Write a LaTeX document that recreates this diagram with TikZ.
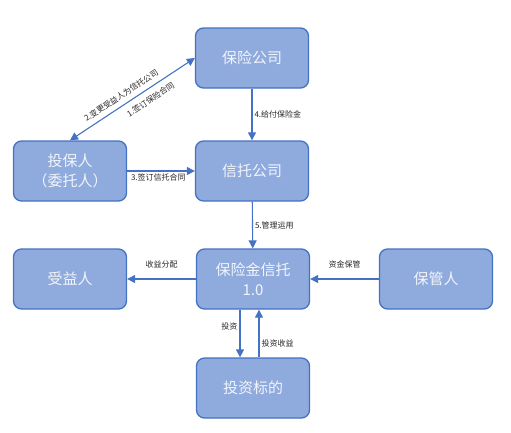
\documentclass[tikz,border=0pt]{standalone}
\usepackage{fontspec}
\setmainfont{Noto Sans CJK SC}
\usetikzlibrary{arrows.meta,positioning}
\definecolor{boxFill}{HTML}{8FAADC}
\definecolor{boxEdge}{HTML}{4472C4}
\definecolor{boxText}{HTML}{F2F5FB}
\tikzset{
  party/.style={draw=boxEdge, fill=boxFill, rounded corners=8pt, line width=1.3pt,
                minimum width=113pt, minimum height=60pt, font=\fontsize{15}{20}\selectfont,
                text=boxText, align=center},
  flow/.style={-{Triangle[length=8pt,width=8pt]}, draw=boxEdge, line width=1.1pt},
  lbl/.style={font=\fontsize{8}{10}\selectfont, text=black!85, inner sep=2pt},
}
\begin{document}
\begin{tikzpicture}[x=1pt,y=-1pt]
  \useasboundingbox (0,0) rectangle (511,432);
  \node[party] (ins)    at (252,58)  {保险公司};
  \node[party] (trust)  at (252,171) {信托公司};
  \node[party] (holder) at (70,171)  {投保人\\（委托人）};
  \node[party] (fund)   at (253,279) {保险金信托\\1.0};
  \node[party] (keeper) at (436,279) {保管人};
  \node[party] (benef)  at (70,279)  {受益人};
  \node[party] (target) at (253,388) {投资标的};

  % contracts
  \draw[flow,{Triangle[length=8pt,width=8pt]}-{Triangle[length=8pt,width=8pt]}] (holder.north) -- (ins.west)
    node[lbl,pos=0.45,sloped,above,yshift=3pt]{2.变更受益人为信托公司}
    node[lbl,pos=0.6,sloped,below,yshift=-4pt]{1.签订保险合同};
  \draw[flow] (ins) -- (trust) node[lbl,midway,right]{4.给付保险金};
  \draw[flow] (holder) -- (trust) node[lbl,pos=0.02,below right]{3.签订信托合同};
  \draw[flow] (trust) -- (fund) node[lbl,midway,right]{5.管理运用};
  % fund flows
  \draw[flow] (fund) -- (benef) node[lbl,midway,above,yshift=8pt]{收益分配};
  \draw[flow] (keeper) -- (fund) node[lbl,midway,above,yshift=8pt]{资金保管};
  \coordinate (f1) at ([xshift=-13pt]fund.south);
  \coordinate (t1) at ([xshift=-13pt]target.north);
  \coordinate (f2) at ([xshift=6pt]fund.south);
  \coordinate (t2) at ([xshift=6pt]target.north);
  \draw[flow] (f1) -- (t1) node[lbl,pos=0.35,left]{投资};
  \draw[flow] (t2) -- (f2) node[lbl,pos=0.3,right]{投资收益};
\end{tikzpicture}
\end{document}
